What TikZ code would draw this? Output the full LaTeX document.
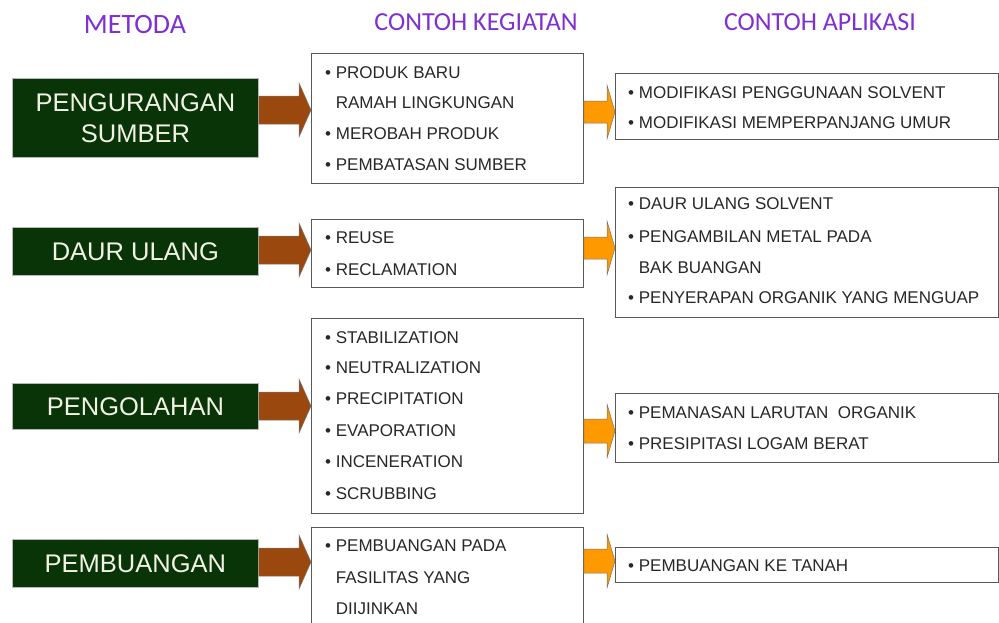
\documentclass[tikz,border=0pt]{standalone}
\usepackage{fontspec}
\setmainfont{Liberation Sans}
\newfontfamily\headfont{Carlito}
\usetikzlibrary{calc}
\definecolor{hdr}{RGB}{128,48,208}
\definecolor{dgreen}{RGB}{8,52,8}
\definecolor{gtext}{RGB}{242,242,228}
\definecolor{brownarr}{RGB}{155,72,14}
\definecolor{orangearr}{RGB}{255,153,0}
\definecolor{txt}{RGB}{40,40,40}
\newcommand\fatarrow[6]{%
  \draw[#1] let \p1=(#2.east), \p2=(#3.west) in
    (\x1,{-(#4-#5)*1pt}) -- ({\x2-#6*1pt},{-(#4-#5)*1pt}) -- ({\x2-#6*1pt},{-(#4-27)*1pt})
    -- (\x2,{-#4*1pt}) -- ({\x2-#6*1pt},{-(#4+27)*1pt}) -- ({\x2-#6*1pt},{-(#4+#5)*1pt})
    -- (\x1,{-(#4+#5)*1pt}) -- cycle;}
\begin{document}
\begin{tikzpicture}[x=1pt,y=-1pt,
  hdrtxt/.style={anchor=base,inner sep=0,text=hdr,font=\headfont\fontsize{26}{30}\selectfont},
  gbox/.style={anchor=north west,inner sep=0,draw=gray!55,line width=0.8pt,fill=dgreen,
    text=gtext,align=center,minimum width=246pt,font=\fontsize{25.5}{31}\selectfont},
  wbox/.style={anchor=north west,inner sep=0,draw=gray!70!black,line width=0.8pt,fill=white},
  line/.style={anchor=base west,inner sep=0,text=txt,font=\fontsize{17}{20}\selectfont},
  brownfat/.style={fill=brownarr,draw=black!55,line width=0.5pt},
  orangefat/.style={fill=orangearr,draw=black!55,line width=0.5pt}]
\clip (0,0) rectangle (999,622);
\fill[white] (0,0) rectangle (999,622);

% headers
\node[hdrtxt,font=\headfont\fontsize{28}{32}\selectfont] (h1) at (135,33) {METODA};
\node[hdrtxt] (h2) at (476,30) {CONTOH KEGIATAN};
\node[hdrtxt] (h3) at (820,30) {CONTOH APLIKASI};

% method boxes
\node[gbox,minimum height=79pt] (g1) at (12,78) {PENGURANGAN\\SUMBER};
\node[gbox,minimum height=48pt] (g2) at (12,227) {DAUR ULANG};
\node[gbox,minimum height=46pt] (g3) at (12,383) {PENGOLAHAN};
\node[gbox,minimum height=48pt] (g4) at (12,539) {PEMBUANGAN};

% activity boxes
\node[wbox,minimum width=272pt,minimum height=130pt] (k1) at (311,53) {};
\node[wbox,minimum width=272pt,minimum height=68pt] (k2) at (311,219) {};
\node[wbox,minimum width=272pt,minimum height=195pt] (k3) at (311,318) {};
\node[wbox,minimum width=272pt,minimum height=130pt] (k4) at (311,527) {};

% application boxes
\node[wbox,minimum width=383pt,minimum height=66pt] (a1) at (615,73) {};
\node[wbox,minimum width=383pt,minimum height=130pt] (a2) at (615,187) {};
\node[wbox,minimum width=383pt,minimum height=69pt] (a3) at (615,393) {};
\node[wbox,minimum width=383pt,minimum height=35pt] (a4) at (615,547) {};

% arrows
\fatarrow{brownfat}{g1}{k1}{110}{14}{12}
\fatarrow{brownfat}{g2}{k2}{250}{14}{12}
\fatarrow{brownfat}{g3}{k3}{406}{14}{12}
\fatarrow{brownfat}{g4}{k4}{562}{14}{12}
\fatarrow{orangefat}{k1}{a1}{112}{11}{8}
\fatarrow{orangefat}{k2}{a2}{248}{11}{8}
\fatarrow{orangefat}{k3}{a3}{431}{12}{8}
\fatarrow{orangefat}{k4}{a4}{561}{12}{8}

% activity texts
\node[line] (k1l1) at (325,78) {• PRODUK BARU};
\node[line] (k1l2) at (325,108) {\hphantom{• }RAMAH LINGKUNGAN};
\node[line] (k1l3) at (325,139) {• MEROBAH PRODUK};
\node[line] (k1l4) at (325,170) {• PEMBATASAN SUMBER};
\node[line] (k2l1) at (325,243) {• REUSE};
\node[line] (k2l2) at (325,275) {• RECLAMATION};
\node[line] (k3l1) at (325,343) {• STABILIZATION};
\node[line] (k3l2) at (325,373) {• NEUTRALIZATION};
\node[line] (k3l3) at (325,404) {• PRECIPITATION};
\node[line] (k3l4) at (325,436) {• EVAPORATION};
\node[line] (k3l5) at (325,467) {• INCENERATION};
\node[line] (k3l6) at (325,499) {• SCRUBBING};
\node[line] (k4l1) at (325,551) {• PEMBUANGAN PADA};
\node[line] (k4l2) at (325,583) {\hphantom{• }FASILITAS YANG};
\node[line] (k4l3) at (325,614) {\hphantom{• }DIIJINKAN};

% application texts
\node[line] (a1l1) at (628,98) {• MODIFIKASI PENGGUNAAN SOLVENT};
\node[line] (a1l2) at (628,128) {• MODIFIKASI MEMPERPANJANG UMUR};
\node[line] (a2l1) at (628,209) {• DAUR ULANG SOLVENT};
\node[line] (a2l2) at (628,242) {• PENGAMBILAN METAL PADA};
\node[line] (a2l3) at (628,273) {\hphantom{• }BAK BUANGAN};
\node[line] (a2l4) at (628,303) {• PENYERAPAN ORGANIK YANG MENGUAP};
\node[line] (a3l1) at (628,418) {• PEMANASAN LARUTAN\ \ ORGANIK};
\node[line] (a3l2) at (628,449) {• PRESIPITASI LOGAM BERAT};
\node[line] (a4l1) at (628,571) {• PEMBUANGAN KE TANAH};
\end{tikzpicture}
\end{document}
